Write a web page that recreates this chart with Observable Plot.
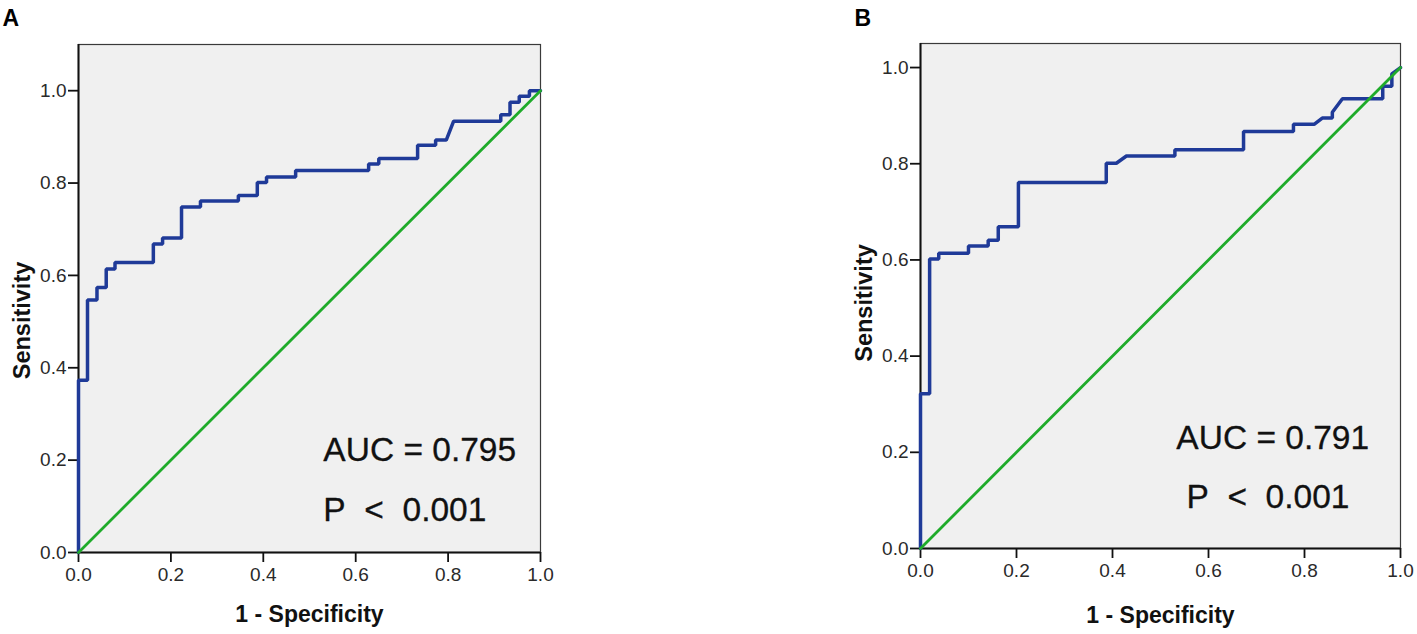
<!DOCTYPE html>
<html><head><meta charset="utf-8">
<script src="https://cdn.jsdelivr.net/npm/d3@7"></script>
<script src="https://cdn.jsdelivr.net/npm/@observablehq/plot@0.6"></script>
<style>
body{margin:0;background:#fff;}
#wrap{position:relative;width:1417px;height:634px;overflow:hidden;background:#fff;font-family:"Liberation Sans",Arial,sans-serif;}
.panel{position:absolute;top:0;}
</style></head><body>
<div id="wrap"><div id="pa" class="panel" style="left:0px"></div><div id="pb" class="panel" style="left:840px"></div></div>
<script>
// ---- data ----
const xTicks = [0, 0.2, 0.4, 0.6, 0.8, 1.0];
const yTicks = [0, 0.2, 0.4, 0.6, 0.8, 1.0];
const refX = [0, 1];
const refY = [0, 1];

// Panel A ROC vertices (1 - specificity, sensitivity)
const fprA = [0, 0, 0.0195, 0.0195, 0.040, 0.040, 0.060, 0.060, 0.079, 0.079, 0.162, 0.162, 0.182, 0.182,
  0.223, 0.223, 0.264, 0.264, 0.346, 0.346, 0.387, 0.387, 0.407, 0.407, 0.470, 0.470, 0.628, 0.628,
  0.650, 0.650, 0.734, 0.734, 0.773, 0.773, 0.796, 0.812, 0.914, 0.914, 0.934, 0.934, 0.954, 0.954,
  0.976, 0.976, 1.0];
const tprA = [0, 0.373, 0.373, 0.547, 0.547, 0.574, 0.574, 0.614, 0.614, 0.628, 0.628, 0.668, 0.668, 0.681,
  0.681, 0.748, 0.748, 0.761, 0.761, 0.773, 0.773, 0.801, 0.801, 0.813, 0.813, 0.827, 0.827, 0.841,
  0.841, 0.853, 0.853, 0.882, 0.882, 0.893, 0.893, 0.934, 0.934, 0.948, 0.948, 0.975, 0.975, 0.988,
  0.988, 1.0, 1.0];

// Panel B ROC vertices
const fprB = [0, 0, 0.019, 0.019, 0.038, 0.038, 0.100, 0.100, 0.141, 0.141, 0.162, 0.162, 0.204, 0.204,
  0.387, 0.387, 0.408, 0.429, 0.530, 0.530, 0.673, 0.673, 0.777, 0.777, 0.820, 0.837, 0.858, 0.858,
  0.879, 0.963, 0.963, 0.982, 0.982, 1.0];
const tprB = [0, 0.322, 0.322, 0.602, 0.602, 0.614, 0.614, 0.629, 0.629, 0.641, 0.641, 0.669, 0.669, 0.761,
  0.761, 0.801, 0.801, 0.816, 0.816, 0.829, 0.829, 0.867, 0.867, 0.882, 0.882, 0.895, 0.895, 0.907,
  0.935, 0.935, 0.961, 0.961, 0.987, 1.0];

const statsA = ["AUC = 0.795", "P\u00a0\u00a0<\u00a0\u00a00.001"];
const statsB = ["AUC = 0.791", "P\u00a0\u00a0<\u00a0\u00a00.001"];

const xLabel = "1 - Specificity";
const yLabel = "Sensitivity";

// ---- drawing ----
function panel(o) {
  const roc = o.fpr.map((x, i) => ({x, y: o.tpr[i]}));
  const ref = refX.map((x, i) => ({x, y: refY[i]}));
  const stats = o.stats.map((t, i) => ({t, x: o.statX[i], y: o.statY[i]}));
  return Plot.plot({
    width: o.width, height: 634,
    marginLeft: o.ml, marginRight: o.mr, marginTop: o.mt, marginBottom: o.mb,
    style: {fontFamily: "Liberation Sans, Arial, sans-serif", background: "transparent", overflow: "visible"},
    x: {domain: [0, 1]},
    y: {domain: [0, o.yMax]},
    marks: [
      Plot.frame({fill: "#f0f0f0", stroke: "#3a3a3a", strokeWidth: 1.2}),
      Plot.axisX({ticks: xTicks, tickFormat: d3.format(".1f"), tickSize: 10, tickPadding: 5,
        fontSize: 19, fill: "#2a2a2a", stroke: "#111", strokeWidth: 1.8, label: null}),
      Plot.axisY({ticks: yTicks, tickFormat: d3.format(".1f"), tickSize: 10, tickPadding: 2,
        fontSize: 19, fill: "#2a2a2a", stroke: "#111", strokeWidth: 1.8, label: null}),
      Plot.ruleY([0], {stroke: "#111", strokeWidth: 2}),
      Plot.ruleX([0], {stroke: "#111", strokeWidth: 2}),
      Plot.line(roc, {x: "x", y: "y", stroke: "#1f3a98", strokeWidth: 3.5, strokeLinejoin: "miter", curve: "linear"}),
      Plot.line(ref, {x: "x", y: "y", stroke: "#1fab2a", strokeWidth: 2.8}),
      Plot.text(stats, {x: "x", y: "y", text: "t", textAnchor: "start", lineAnchor: "bottom",
        fontSize: 33.5, fill: "#111", stroke: "#111", strokeWidth: 0.3}),
      Plot.text([xLabel], {frameAnchor: "bottom", dy: o.xlabDy, lineAnchor: "bottom", fontSize: 23,
        fontWeight: "bold", fill: "#111"}),
      Plot.text([yLabel], {frameAnchor: "left", dx: -56, dy: o.ylabDy, rotate: -90, lineAnchor: "middle",
        textAnchor: "middle", fontSize: 23.5, fontWeight: "bold", fill: "#111"}),
      Plot.text([o.letter], {frameAnchor: "top-left", dx: o.letterDx, dy: o.letterDy, textAnchor: "start",
        lineAnchor: "bottom", fontSize: 23, fontWeight: "bold", fill: "#000"})
    ]
  });
}

document.getElementById("pa").appendChild(panel({
  fpr: fprA, tpr: tprA, stats: statsA, statX: [0.530, 0.530], statY: [0.199, 0.069],
  width: 560, ml: 78, mr: 20, mt: 44, mb: 82, yMax: 1.1,
  xlabDy: 69, ylabDy: 22, letter: "A", letterDx: -76, letterDy: -19
}));
document.getElementById("pb").appendChild(panel({
  fpr: fprB, tpr: tprB, stats: statsB, statX: [0.533, 0.554], statY: [0.207, 0.084],
  width: 577, ml: 80, mr: 17, mt: 43, mb: 86, yMax: 1.05,
  xlabDy: 74, ylabDy: 7, letter: "B", letterDx: -66, letterDy: -18
}));
</script>
</body></html>
